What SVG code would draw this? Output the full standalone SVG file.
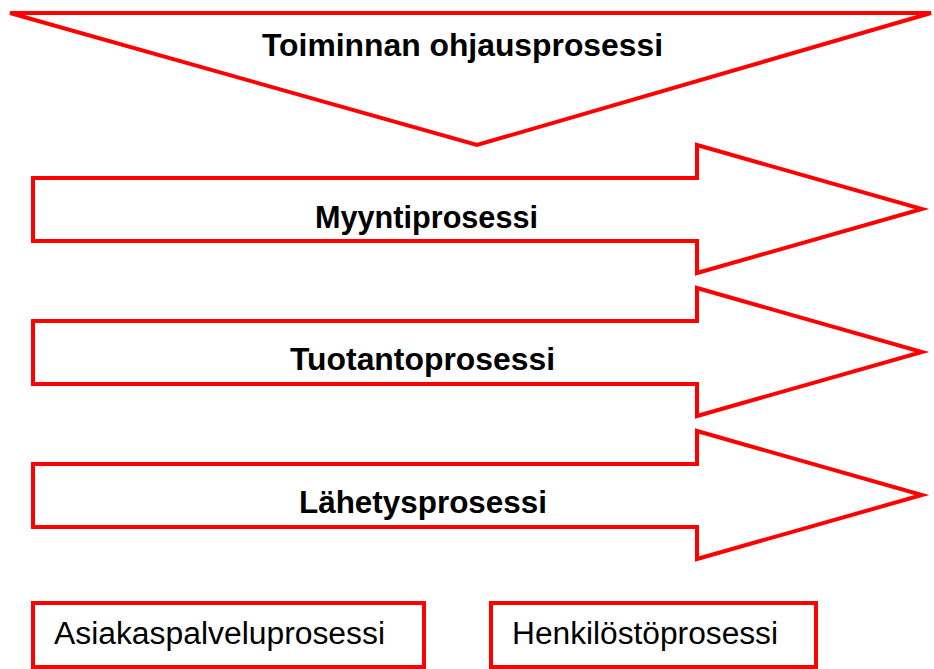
<svg xmlns="http://www.w3.org/2000/svg" width="934" height="669" viewBox="0 0 934 669">
<style>
.s{fill:#ffffff;stroke:#ff0000;stroke-width:4;stroke-linejoin:miter}
.b{font-family:"Liberation Sans",Arial,sans-serif;font-weight:bold;font-size:31px;fill:#000}
.r{font-family:"Liberation Sans",Arial,sans-serif;font-size:31px;fill:#000}
</style>
<rect width="934" height="669" fill="#ffffff"/>
<g id="ohjaus">
<polygon class="s" points="10,13 931,13 477,145"/>
<text class="b" x="262" y="56" textLength="401" lengthAdjust="spacingAndGlyphs">Toiminnan ohjausprosessi</text>
</g>
<g id="myynti">
<polygon class="s" points="33,178 697,178 697,145 922,209 697,273 697,241 33,241"/>
<text class="b" x="315" y="228" textLength="223" lengthAdjust="spacingAndGlyphs">Myyntiprosessi</text>
</g>
<g id="tuotanto">
<polygon class="s" points="33,321 697,321 697,288 922,352 697,416 697,384 33,384"/>
<text class="b" x="290" y="370" textLength="265" lengthAdjust="spacingAndGlyphs">Tuotantoprosessi</text>
</g>
<g id="lahetys">
<polygon class="s" points="33,464 697,464 697,431 922,495 697,559 697,527 33,527"/>
<text class="b" x="299" y="513" textLength="248" lengthAdjust="spacingAndGlyphs">Lähetysprosessi</text>
</g>
<g id="asiakaspalvelu">
<rect class="s" x="33" y="603" width="391" height="64"/>
<text class="r" x="54" y="644" textLength="331" lengthAdjust="spacingAndGlyphs">Asiakaspalveluprosessi</text>
</g>
<g id="henkilosto">
<rect class="s" x="491" y="603" width="325" height="64"/>
<text class="r" x="512" y="644" textLength="266" lengthAdjust="spacingAndGlyphs">Henkilöstöprosessi</text>
</g>
<g id="connectors"/>
</svg>
